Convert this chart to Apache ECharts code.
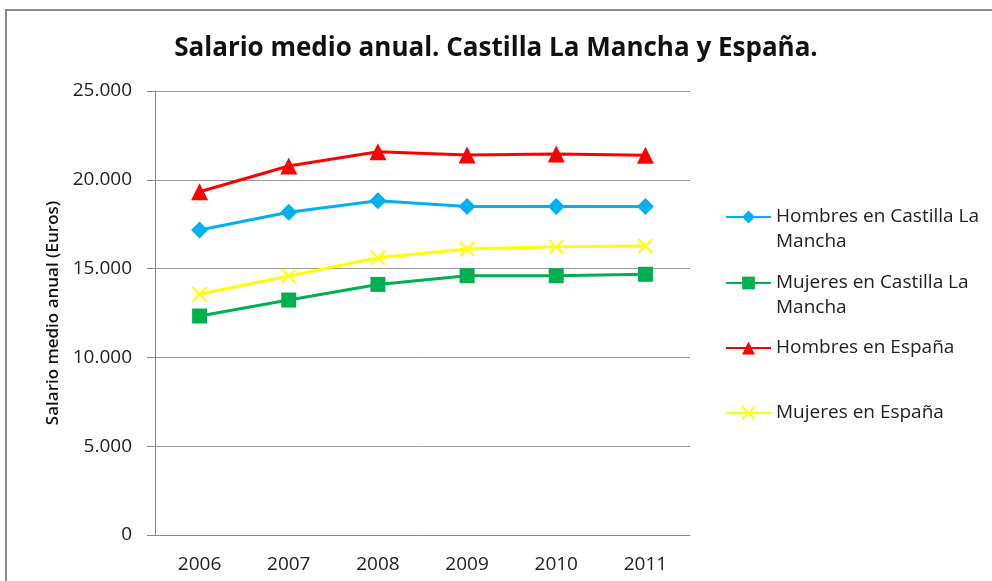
<!DOCTYPE html>
<html>
<head>
<meta charset="utf-8">
<script src="https://cdn.jsdelivr.net/npm/echarts@6/dist/echarts.min.js"></script>
<style>
  html, body { margin: 0; padding: 0; background: #fff; }
  #chart { width: 992px; height: 581px; }
</style>
</head>
<body>
<div id="chart"></div>
<script>
// años
var years = ['2006', '2007', '2008', '2009', '2010', '2011'];

// salario medio anual (euros)
var hombresCLM = [17170, 18170, 18820, 18490, 18490, 18490];
var mujeresCLM = [12330, 13230, 14110, 14600, 14600, 14680];
var hombresEsp = [19330, 20780, 21580, 21400, 21450, 21380];
var mujeresEsp = [13570, 14580, 15610, 16100, 16230, 16270];

var names = ['Hombres en Castilla La Mancha', 'Mujeres en Castilla La Mancha',
             'Hombres en España', 'Mujeres en España'];

var font = 'Open Sans';

function miles(v) {
    return String(v).replace(/\B(?=(\d{3})+(?!\d))/g, '.');
}

// una leyenda por serie, para colocar cada una como en el original
function legendAt(name, top) {
    return {
        data: [name],
        left: 725,
        top: top,
        padding: 0,
        itemWidth: 45,
        itemHeight: 16,
        selectedMode: false,
        formatter: function (n) {
            if (n.indexOf('Castilla La Mancha') >= 0) {
                // linea vacia delante: el icono queda a la altura de la primera linea
                return '\n' + n.replace('Castilla La Mancha', 'Castilla La\nMancha');
            }
            return n;
        },
        textStyle: {
            fontFamily: font,
            fontSize: 19,
            color: '#222',
            lineHeight: 25
        }
    };
}

var myChart = echarts.init(document.getElementById('chart'));

var option = {
    animation: false,
    backgroundColor: '#fff',
    title: {
        text: 'Salario medio anual. Castilla La Mancha y España.',
        left: 'center',
        top: 31,
        textStyle: { fontFamily: font, fontSize: 26, fontWeight: 'bold', color: '#111' }
    },
    graphic: [{
        type: 'rect',
        shape: { x: 6, y: 10, width: 1000, height: 600 },
        style: { fill: null, stroke: '#888', lineWidth: 2 },
        silent: true
    }],
    legend: [
        legendAt(names[0], 179.5),
        legendAt(names[1], 245.5),
        legendAt(names[2], 335.5),
        legendAt(names[3], 400.5)
    ],
    grid: { left: 155, right: 302, top: 91, bottom: 46 },
    xAxis: {
        type: 'category',
        data: years,
        boundaryGap: true,
        axisLine: { lineStyle: { color: '#888', width: 1 } },
        axisTick: { length: 7, lineStyle: { color: '#888' } },
        axisLabel: { fontFamily: font, fontSize: 19, color: '#222', margin: 20 }
    },
    yAxis: {
        type: 'value',
        min: 0,
        max: 25000,
        interval: 5000,
        name: 'Salario medio anual (Euros)',
        nameLocation: 'middle',
        nameGap: 93,
        nameTextStyle: { fontFamily: font, fontSize: 17, fontWeight: 600, color: '#111' },
        axisLine: { show: true, lineStyle: { color: '#888', width: 1 } },
        axisTick: { show: true, length: 8, lineStyle: { color: '#888' } },
        splitLine: { lineStyle: { color: '#999', width: 1 } },
        axisLabel: {
            fontFamily: font, fontSize: 19, color: '#222', margin: 23,
            formatter: miles
        }
    },
    series: [
        {
            name: names[0], type: 'line', data: hombresCLM,
            symbol: 'diamond', symbolSize: 17,
            lineStyle: { width: 3, color: '#00B0F0' },
            itemStyle: { color: '#00B0F0' }
        },
        {
            name: names[1], type: 'line', data: mujeresCLM,
            symbol: 'rect', symbolSize: 15,
            lineStyle: { width: 3, color: '#00B050' },
            itemStyle: { color: '#00B050' }
        },
        {
            name: names[2], type: 'line', data: hombresEsp,
            symbol: 'triangle', symbolSize: 17,
            lineStyle: { width: 3, color: '#FF0000' },
            itemStyle: { color: '#FF0000' }
        },
        {
            name: names[3], type: 'line', data: mujeresEsp,
            symbol: 'path://M0,0L10,10M10,0L0,10', symbolSize: 14,
            lineStyle: { width: 3, color: '#FFFF00' },
            itemStyle: { color: 'none', borderColor: '#FFFF00', borderWidth: 2 }
        }
    ]
};

myChart.setOption(option);
</script>
</body>
</html>
